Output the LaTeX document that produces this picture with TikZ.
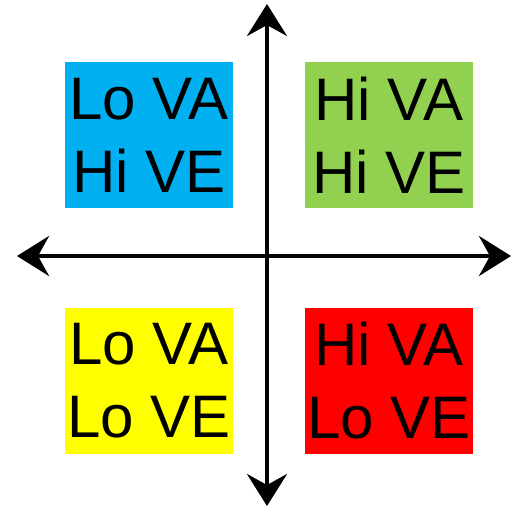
\documentclass[tikz,border=0pt]{standalone}
\usepackage{fontspec}
\setmainfont{Liberation Sans}
\usetikzlibrary{arrows.meta}
\definecolor{qblue}{HTML}{00B0F0}
\definecolor{qgreen}{HTML}{92D050}
\definecolor{qyellow}{HTML}{FFFF00}
\definecolor{qred}{HTML}{FF0000}
\tikzset{
  quad/.style={minimum width=168pt, minimum height=146pt, inner sep=0pt,
    align=center, font=\fontsize{60}{73}\selectfont, text=black},
  axis/.style={line width=4pt, black, line cap=round,
    -{Stealth[length=32pt,width=40pt,inset=11pt]}},
}
\begin{document}
\begin{tikzpicture}[x=1pt,y=-1pt]
  \useasboundingbox (0,0) rectangle (511,509);
  % quadrant labels
  \node[quad, fill=qblue]   (lohi) at (149,135) {Lo VA\\Hi VE};
  \node[quad, fill=qgreen]  (hihi) at (389,135) {Hi VA\\Hi VE};
  \node[quad, fill=qyellow] (lolo) at (149,380.5) {Lo VA\\Lo VE};
  \node[quad, fill=qred]    (hilo) at (389,380.5) {Hi VA\\Lo VE};
  % axes
  \coordinate (o) at (267,256);
  \coordinate (top) at (267,4);
  \coordinate (bot) at (267,506);
  \coordinate (lft) at (17,256);
  \coordinate (rgt) at (511,256);
  \draw[axis] (o) -- (top);
  \draw[axis] (o) -- (bot);
  \draw[axis] (o) -- (lft);
  \draw[axis] (o) -- (rgt);
\end{tikzpicture}
\end{document}
